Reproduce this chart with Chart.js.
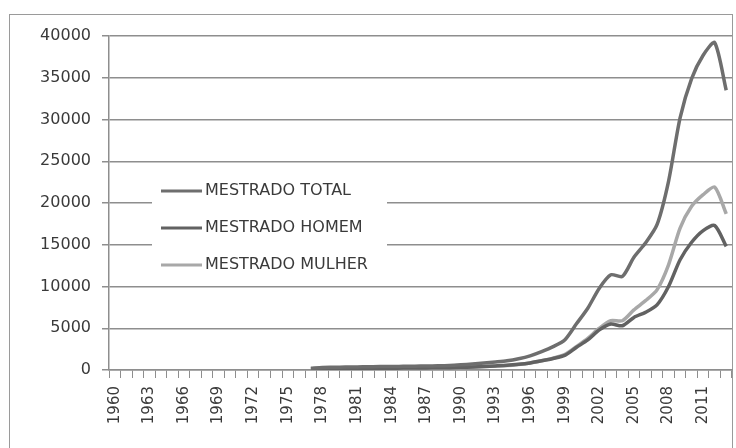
<!DOCTYPE html>
<html>
<head>
<meta charset="utf-8">
<script src="https://cdn.jsdelivr.net/npm/chart.js@4.4.1/dist/chart.umd.min.js"></script>
<style>
  html, body { margin: 0; padding: 0; background: #fff; }
  #wrap { position: relative; width: 736px; height: 448px; overflow: hidden; }
  #frame { position: absolute; left: 9px; top: 14px; width: 724px; height: 450px; border: 1px solid #9a9a9a; box-sizing: border-box; }
  #chart { position: absolute; left: 0; top: 0; }
</style>
</head>
<body>
<div id="wrap">
  <div id="frame"></div>
  <canvas id="chart" width="736" height="448"></canvas>
</div>
<script>
// Years 1960..2013
const YEARS = [
  1960, 1961, 1962, 1963, 1964, 1965, 1966, 1967, 1968, 1969,
  1970, 1971, 1972, 1973, 1974, 1975, 1976, 1977, 1978, 1979,
  1980, 1981, 1982, 1983, 1984, 1985, 1986, 1987, 1988, 1989,
  1990, 1991, 1992, 1993, 1994, 1995, 1996, 1997, 1998, 1999,
  2000, 2001, 2002, 2003, 2004, 2005, 2006, 2007, 2008, 2009,
  2010, 2011, 2012, 2013
];

// values (no data before 1977)
const MESTRADO_TOTAL = [
  null, null, null, null, null, null, null, null, null, null,
  null, null, null, null, null, null, null, 200, 300, 320,
  350, 370, 390, 420, 410, 440, 460, 480, 500, 540,
  620, 720, 840, 960, 1100, 1350, 1700, 2200, 2800, 3600,
  5500, 7400, 9800, 11400, 11200, 13500, 15200, 17400, 22600, 30200,
  34900, 37700, 39200, 33500
];
const MESTRADO_HOMEM = [
  null, null, null, null, null, null, null, null, null, null,
  null, null, null, null, null, null, null, 110, 170, 180,
  190, 200, 210, 220, 215, 230, 240, 250, 260, 280,
  320, 370, 430, 490, 560, 680, 850, 1100, 1380, 1750,
  2700, 3600, 4800, 5500, 5300, 6300, 6900, 7800, 10000, 13200,
  15300, 16700, 17300, 14800
];
const MESTRADO_MULHER = [
  null, null, null, null, null, null, null, null, null, null,
  null, null, null, null, null, null, null, 90, 130, 140,
  160, 170, 180, 200, 195, 210, 220, 230, 240, 260,
  300, 350, 410, 470, 540, 670, 850, 1100, 1420, 1850,
  2800, 3800, 5000, 5900, 5900, 7200, 8300, 9600, 12600, 17000,
  19600, 21000, 21900, 18700
];

const Y_MIN = 0, Y_MAX = 40000, Y_STEP = 5000;

const TEXT = '#3a3a3a';
const GRID = '#8e8e8e';
const FONT = 'DejaVu Sans';

// legend drawn inside the plot, on a white box, like the original
const insideLegend = {
  id: 'insideLegend',
  afterDatasetsDraw(chart) {
    const ctx = chart.ctx;
    ctx.save();
    ctx.fillStyle = '#fff';
    ctx.fillRect(152, 172, 235, 110);
    ctx.font = '16px ' + FONT;
    ctx.textBaseline = 'middle';
    chart.data.datasets.forEach((ds, i) => {
      const y = 191 + i * 37;
      ctx.strokeStyle = ds.borderColor;
      ctx.lineWidth = 3;
      ctx.beginPath();
      ctx.moveTo(161, y);
      ctx.lineTo(202, y);
      ctx.stroke();
      ctx.fillStyle = TEXT;
      ctx.fillText(ds.label, 205, y);
    });
    ctx.restore();
  }
};

const ctx = document.getElementById('chart').getContext('2d');
new Chart(ctx, {
  type: 'line',
  data: {
    labels: YEARS.map(String),
    datasets: [
      { label: 'MESTRADO TOTAL',  data: MESTRADO_TOTAL,  borderColor: '#6e6e6e' },
      { label: 'MESTRADO HOMEM',  data: MESTRADO_HOMEM,  borderColor: '#626262' },
      { label: 'MESTRADO MULHER', data: MESTRADO_MULHER, borderColor: '#a8a8a8' }
    ].map(d => Object.assign(d, {
      borderWidth: 3.5,
      pointRadius: 0,
      tension: 0.25,
      fill: false,
      spanGaps: false
    }))
  },
  options: {
    responsive: false,
    animation: false,
    layout: { padding: { left: 0, top: 36, right: 4, bottom: 0 } },
    plugins: { legend: { display: false }, tooltip: { enabled: false } },
    scales: {
      x: {
        offset: true,
        afterFit: s => { s.height = 78; s.paddingLeft = 0; s.paddingRight = 0; },
        grid: { offset: true, drawOnChartArea: false, drawTicks: true, tickLength: 8, color: GRID, lineWidth: 1 },
        border: { display: true, color: GRID, width: 1.5 },
        ticks: {
          autoSkip: false,
          minRotation: 90,
          maxRotation: 90,
          padding: 8,
          color: TEXT,
          font: { family: FONT, size: 15 },
          callback: function (v, i) {
            const yr = YEARS[i];
            return (yr - YEARS[0]) % 3 === 0 ? String(yr) : '';
          }
        }
      },
      y: {
        min: Y_MIN,
        max: Y_MAX,
        afterFit: s => { s.width = 109; s.paddingTop = 0; s.paddingBottom = 0; },
        grid: { color: GRID, lineWidth: 1.5, drawTicks: true, tickLength: 7 },
        border: { display: true, color: GRID, width: 1.5 },
        ticks: {
          stepSize: Y_STEP,
          padding: 11,
          color: TEXT,
          font: { family: FONT, size: 16 },
          callback: v => String(v)
        }
      }
    }
  },
  plugins: [insideLegend]
});
</script>
</body>
</html>
